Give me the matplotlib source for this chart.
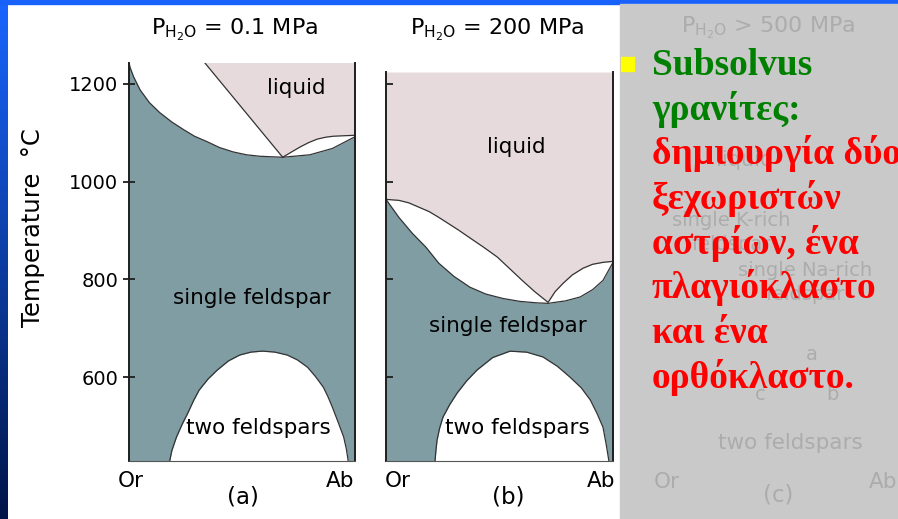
import numpy as np
import matplotlib
matplotlib.use("Agg")
import matplotlib.pyplot as plt
from matplotlib.patches import Rectangle

W, H = 898, 519

plt.rcParams['font.family'] = ['DejaVu Sans']
plt.rcParams['mathtext.fontset'] = 'dejavusans'

TEAL = '#7f9da3'
PINK = '#e6dadd'
LINE = '#333333'
SPINE = '#1e1e1e'

GRAY_BG = '#c9c9c9'
GRAY_DARK = '#bababa'
GRAY_LINE = '#a6a6a6'
GRAY_TEXT = '#acacac'

T_TICKS = [600, 800, 1000, 1200]

# ---- panel (a): P_H2O = 0.1 MPa ----
comp_sol_a = [0.0, 0.004, 0.02, 0.049, 0.09, 0.137, 0.19, 0.24, 0.29, 0.345, 0.40, 0.46,
              0.52, 0.58, 0.68, 0.80, 0.90, 1.0]
T_sol_a = [1245, 1235, 1215, 1188, 1162, 1141, 1122, 1107, 1093, 1082, 1070, 1061,
           1055, 1052, 1050, 1055, 1068, 1092]
comp_liq_a = [0.336, 0.68]
T_liq_a = [1243, 1050]
comp_lens_a = [0.68, 0.72, 0.757, 0.795, 0.832, 0.87, 0.903, 0.95, 1.0]
T_lens_a = [1050, 1061, 1071, 1080, 1087, 1091, 1093, 1094, 1095]
comp_solvus_a = [0.18, 0.19, 0.21, 0.235, 0.26, 0.285, 0.31, 0.35, 0.39, 0.44, 0.49, 0.54,
                 0.59, 0.645, 0.70, 0.745, 0.79, 0.825, 0.86, 0.88, 0.90, 0.925, 0.95,
                 0.962, 0.97]
T_solvus_a = [428, 450, 477, 503, 526, 551, 573, 596, 614, 633, 645, 651,
              653, 651, 645, 635, 620, 601, 579, 560, 538, 508, 477, 452, 428]

# ---- panel (b): P_H2O = 200 MPa ----
comp_sol_b = [0.0, 0.057, 0.115, 0.176, 0.233, 0.30, 0.37, 0.44, 0.515, 0.59, 0.665, 0.714,
              0.79, 0.855, 0.91, 0.956, 1.0]
T_sol_b = [964, 927, 895, 866, 833, 806, 784, 770, 761, 755, 752, 751,
           756, 764, 779, 798, 835]
comp_liq_b = [0.0, 0.057, 0.10, 0.145, 0.19, 0.233, 0.32, 0.37, 0.43, 0.49, 0.545, 0.60,
              0.655, 0.714, 0.745, 0.78, 0.82, 0.868, 0.91, 0.956, 1.0]
T_liq_b = [964, 962, 957, 948, 939, 927, 901, 885, 866, 846, 822, 798,
           775, 753, 775, 792, 809, 823, 831, 835, 837]
comp_solvus_b = [0.216, 0.22, 0.225, 0.236, 0.251, 0.28, 0.313, 0.355, 0.40, 0.47, 0.546,
                 0.62, 0.692, 0.755, 0.81, 0.86, 0.90, 0.93, 0.956, 0.97, 0.982]
T_solvus_b = [428, 450, 471, 495, 518, 543, 567, 592, 614, 640, 653,
              651, 641, 622, 600, 578, 553, 525, 497, 462, 428]

# ---- panel (c): P_H2O > 500 MPa (faded) ----
comp_liqL_c = [0.0, 0.2, 0.42, 0.62, 0.67]
T_liqL_c = [800, 751, 702, 661, 640]
comp_liqR_c = [0.67, 0.75, 0.85, 1.0]
T_liqR_c = [640, 662, 680, 692]
comp_solL_c = [0.0, 0.02, 0.05, 0.13, 0.32, 0.45]
T_solL_c = [800, 700, 650, 620, 587, 570]
comp_solR_c = [1.0, 0.96, 0.93, 0.90]
T_solR_c = [692, 640, 600, 573]
comp_solvL_c = [0.16, 0.28, 0.45, 0.665, 0.87, 1.0]
T_solvL_c = [417, 505, 567, 610, 640, 655]
comp_solvR_c = [0.90, 0.93, 0.97, 0.98]
T_solvR_c = [573, 540, 505, 423]

GREEK_LINES = ['Subsolvus', 'γρανίτες:', 'δημιουργία δύο', 'ξεχωριστών',
               'αστρίων, ένα', 'πλαγιόκλαστο', 'και ένα', 'ορθόκλαστο.']
GREEK_COLORS = ['#008000', '#008000', '#ff0000', '#ff0000',
                '#ff0000', '#ff0000', '#ff0000', '#ff0000']


def box(left, top, right, bottom):
    return [left / W, 1 - bottom / H, (right - left) / W, (bottom - top) / H]


def ftext(x, y, s, **kw):
    fig.text(x / W, 1 - y / H, s, ha=kw.pop('ha', 'center'), va=kw.pop('va', 'center'), **kw)


fig = plt.figure(figsize=(W / 100, H / 100), dpi=100, facecolor='white')

# slide frame: blue top bar and left gradient strip
fig.patches.append(Rectangle((0, 1 - 3.5 / H), 1, 3.5 / H, transform=fig.transFigure,
                             color='#1862fb', zorder=0))
ax_strip = fig.add_axes([0, 0, 7.5 / W, 1])
grad = np.linspace(0, 1, 256)[:, None]
top_c = np.array([0.10, 0.40, 1.00])
bot_c = np.array([0.00, 0.08, 0.28])
ax_strip.imshow(top_c + grad[:, :, None] * (bot_c - top_c), aspect='auto', extent=[0, 1, 0, 1])
ax_strip.axis('off')


def style_axes(ax, labels):
    ax.set_xlim(0, 1)
    ax.set_xticks([])
    ax.set_yticks(T_TICKS)
    for side in ['left', 'right']:
        ax.spines[side].set_color(SPINE)
        ax.spines[side].set_linewidth(1.4)
    ax.spines['top'].set_visible(False)
    ax.spines['bottom'].set_color('#555555')
    ax.spines['bottom'].set_linewidth(0.8)
    if labels:
        ax.tick_params(axis='y', direction='inout', length=9, width=1.3, color=SPINE,
                       labelsize=14, pad=3.2)
    else:
        ax.tick_params(axis='y', direction='in', length=5, width=1.3, color=SPINE,
                       labelleft=False)


# panel (a)
ax_a = fig.add_axes(box(129, 63, 355, 461))
ax_a.set_ylim(428, 1243)
ax_a.fill_between(comp_sol_a, 428, T_sol_a, color=TEAL, lw=0)
ax_a.fill(np.r_[comp_liq_a, comp_lens_a[1:], 1.0], np.r_[T_liq_a, T_lens_a[1:], 1243],
          color=PINK, lw=0)
ax_a.fill_between(comp_solvus_a, 428, T_solvus_a, color='white', lw=0)
for cx, ty in [(comp_sol_a, T_sol_a), (comp_liq_a, T_liq_a), (comp_lens_a, T_lens_a),
               (comp_solvus_a, T_solvus_a)]:
    ax_a.plot(cx, ty, color=LINE, lw=0.9, solid_joinstyle='round')
style_axes(ax_a, True)

# panel (b)
ax_b = fig.add_axes(box(386, 72, 613, 461))
ax_b.set_ylim(428, 1225)
ax_b.fill_between(comp_sol_b, 428, T_sol_b, color=TEAL, lw=0)
ax_b.fill_between(comp_liq_b, T_liq_b, 1225, color=PINK, lw=0)
ax_b.fill_between(comp_solvus_b, 428, T_solvus_b, color='white', lw=0)
for cx, ty in [(comp_sol_b, T_sol_b), (comp_liq_b, T_liq_b), (comp_solvus_b, T_solvus_b)]:
    ax_b.plot(cx, ty, color=LINE, lw=0.9, solid_joinstyle='round')
style_axes(ax_b, False)

# titles and labels for (a) and (b)
ftext(235, 30, r'P$_{\mathrm{H_2O}}$ = 0.1 MPa', fontsize=16)
ftext(497, 30, r'P$_{\mathrm{H_2O}}$ = 200 MPa', fontsize=16)
ftext(33, 228, 'Temperature  °C', rotation=90, fontsize=17.5)
ftext(296, 88, 'liquid', fontsize=15.5)
ftext(252, 298, 'single feldspar', fontsize=15.5)
ftext(258, 428, 'two feldspars', fontsize=15.5)
ftext(516, 147, 'liquid', fontsize=15.5)
ftext(508, 326, 'single feldspar', fontsize=15.5)
ftext(517, 428, 'two feldspars', fontsize=15.5)
ftext(131, 481, 'Or', fontsize=15.5)
ftext(340, 481, 'Ab', fontsize=15.5)
ftext(243, 497, '(a)', fontsize=16.5)
ftext(398, 481, 'Or', fontsize=15.5)
ftext(601, 481, 'Ab', fontsize=15.5)
ftext(508, 497, '(b)', fontsize=16.5)

# faded panel (c) behind the text box
fig.patches.append(Rectangle((620 / W, 0), 1 - 620 / W, 1 - 4 / H, transform=fig.transFigure,
                             color=GRAY_BG, zorder=0.5))
ax_c = fig.add_axes(box(658, 72, 882, 463))
ax_c.patch.set_alpha(0)
ax_c.set_ylim(423, 1225)
ax_c.fill(np.r_[0.0, comp_solL_c, 0.28, 0.16], np.r_[423, T_solL_c, 505, 417],
          color=GRAY_DARK, lw=0)
ax_c.fill(np.r_[comp_solR_c, comp_solvR_c[1:], 1.0], np.r_[T_solR_c, T_solvR_c[1:], 423],
          color=GRAY_DARK, lw=0)
for cx, ty in [(comp_liqL_c, T_liqL_c), (comp_liqR_c, T_liqR_c), (comp_solL_c, T_solL_c),
               (comp_solR_c, T_solR_c), (comp_solvL_c, T_solvL_c), (comp_solvR_c, T_solvR_c)]:
    ax_c.plot(cx, ty, color=GRAY_LINE, lw=0.9)
ax_c.set_xlim(0, 1)
ax_c.set_xticks([])
ax_c.set_yticks(T_TICKS)
ax_c.tick_params(axis='y', direction='in', length=5, color=GRAY_LINE, labelleft=False)
for side in ['left', 'right', 'bottom']:
    ax_c.spines[side].set_color(GRAY_LINE)
    ax_c.spines[side].set_linewidth(1.0)
ax_c.spines['top'].set_visible(False)

ftext(768, 28, r'P$_{\mathrm{H_2O}}$ > 500 MPa', fontsize=16, color=GRAY_TEXT)
ftext(745, 160, 'liquid', fontsize=15, color=GRAY_TEXT)
ftext(731, 220, 'single K-rich', fontsize=14, color=GRAY_TEXT)
ftext(731, 244, 'feldspar', fontsize=14, color=GRAY_TEXT)
ftext(805, 270, 'single Na-rich', fontsize=14, color=GRAY_TEXT)
ftext(805, 294, 'feldspar', fontsize=14, color=GRAY_TEXT)
ftext(812, 355, 'a', fontsize=14, color=GRAY_TEXT)
ftext(760, 395, 'c', fontsize=14, color=GRAY_TEXT)
ftext(832, 395, 'b', fontsize=14, color=GRAY_TEXT)
ftext(790, 443, 'two feldspars', fontsize=15.5, color=GRAY_TEXT)
ftext(667, 482, 'Or', fontsize=15.5, color=GRAY_TEXT)
ftext(883, 482, 'Ab', fontsize=15.5, color=GRAY_TEXT)
ftext(778, 495, '(c)', fontsize=16.5, color=GRAY_TEXT)

# bullet and Greek text
fig.patches.append(Rectangle((621 / W, 1 - 71 / H), 12.5 / W, 13.5 / H, transform=fig.transFigure,
                             color='#ffff00', zorder=5))
for i, (line, col) in enumerate(zip(GREEK_LINES, GREEK_COLORS)):
    ftext(652, 75 + 44.7 * i, line, ha='left', va='baseline', color=col, fontsize=27,
          family=['Liberation Serif', 'DejaVu Serif'], weight='bold', zorder=6)

fig.savefig('out.png', dpi=100)
